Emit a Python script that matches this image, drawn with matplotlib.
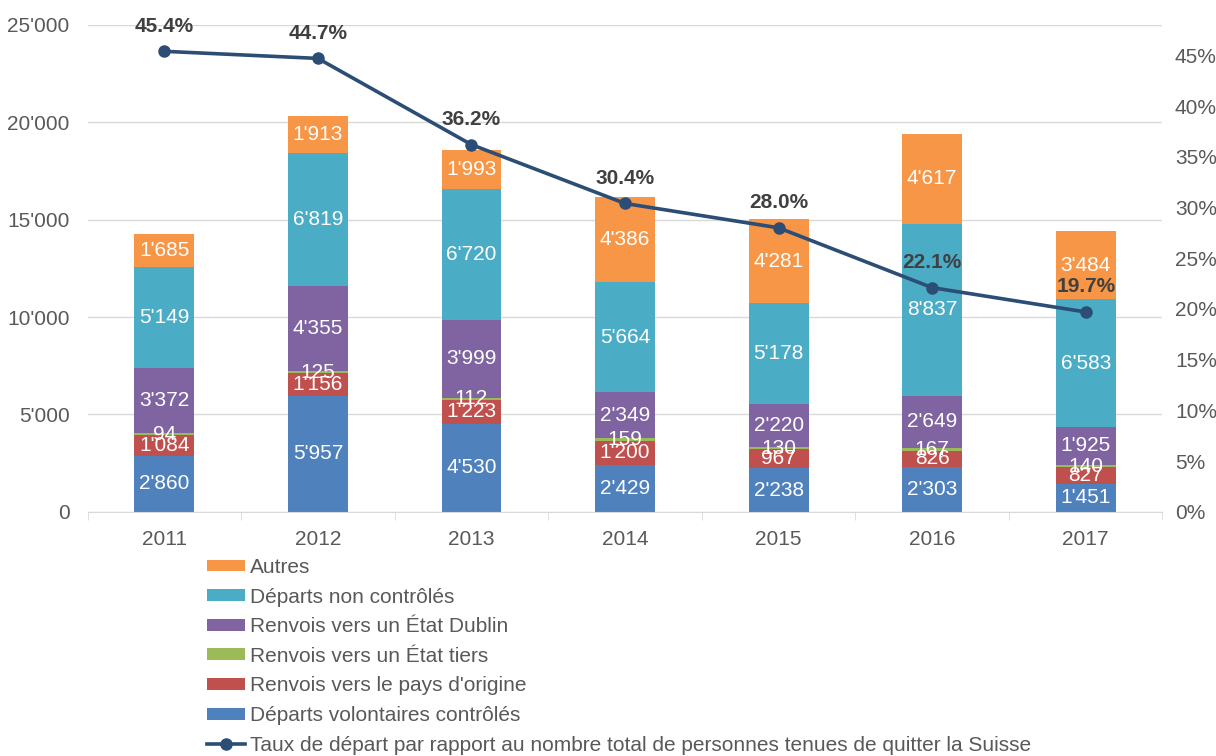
import numpy as np
import matplotlib.pyplot as plt
from matplotlib.ticker import FuncFormatter, FixedLocator

plt.rcParams['font.family'] = ['Liberation Sans', 'DejaVu Sans']

years = ['2011', '2012', '2013', '2014', '2015', '2016', '2017']
volontaires = [2860, 5957, 4530, 2429, 2238, 2303, 1451]
origine = [1084, 1156, 1223, 1200, 967, 826, 827]
tiers = [94, 125, 112, 159, 130, 167, 140]
dublin = [3372, 4355, 3999, 2349, 2220, 2649, 1925]
non_controles = [5149, 6819, 6720, 5664, 5178, 8837, 6583]
autres = [1685, 1913, 1993, 4386, 4281, 4617, 3484]
taux = [45.4, 44.7, 36.2, 30.4, 28.0, 22.1, 19.7]

series = [
    ('Départs volontaires contrôlés', volontaires, '#4F81BD'),
    ("Renvois vers le pays d'origine", origine, '#C0504D'),
    ('Renvois vers un État tiers', tiers, '#9BBB59'),
    ('Renvois vers un État Dublin', dublin, '#8064A2'),
    ('Départs non contrôlés', non_controles, '#4BACC6'),
    ('Autres', autres, '#F79646'),
]
line_label = 'Taux de départ par rapport au nombre total de personnes tenues de quitter la Suisse'

txt = '#595959'
fs = 15


def thousands(v, pos=None):
    return f'{int(v):,}'.replace(',', "'")


fig = plt.figure(figsize=(12.16, 7.56), dpi=100)
ax = fig.add_axes([0.072, 0.323, 0.884, 0.644])
x = np.arange(len(years))

bottom = np.zeros(len(years))
handles = []
for name, vals, col in series:
    vals = np.array(vals)
    b = ax.bar(x, vals, 0.39, bottom=bottom, color=col, label=name, zorder=2)
    handles.append(b)
    for xi, v, bt in zip(x, vals, bottom):
        ax.text(xi, bt + v / 2, thousands(v), ha='center', va='center',
                color='white', fontsize=fs, zorder=4)
    bottom += vals

ax.set_xlim(-0.5, 6.5)
ax.set_ylim(0, 25000)
ax.set_yticks(np.arange(0, 25001, 5000))
ax.yaxis.set_major_formatter(FuncFormatter(thousands))
ax.grid(axis='y', color='#D9D9D9', lw=1, zorder=0)
ax.set_axisbelow(True)
for s in ['left', 'right', 'top']:
    ax.spines[s].set_visible(False)
ax.spines['bottom'].set_color('#D9D9D9')
ax.set_xticks(x)
ax.set_xticklabels(years)
ax.xaxis.set_minor_locator(FixedLocator(np.arange(-0.5, 7, 1)))
ax.tick_params(axis='x', which='major', length=0, labelsize=fs, colors=txt, pad=13)
ax.tick_params(axis='x', which='minor', length=6, color='#D9D9D9')
ax.tick_params(axis='y', length=0, labelsize=fs, colors=txt, pad=13)

ax2 = ax.twinx()
ax2.set_ylim(0, 48)
ax2.set_yticks(np.arange(0, 46, 5))
ax2.yaxis.set_major_formatter(FuncFormatter(lambda v, p: f'{int(v)}%'))
ax2.tick_params(axis='y', length=0, labelsize=fs, colors=txt, pad=9)
for s in ax2.spines.values():
    s.set_visible(False)
ln, = ax2.plot(x, taux, color='#2C4D75', lw=2.6, marker='o', ms=8, zorder=5,
               label=line_label)
for xi, t in zip(x, taux):
    ax2.annotate(f'{t:.1f}%', (xi, t), xytext=(0, 18), textcoords='offset points',
                 ha='center', va='center', fontsize=fs, fontweight='bold', color='#404040')

leg_handles = handles[::-1] + [ln]
leg_labels = [s[0] for s in series[::-1]] + [line_label]
fig.legend(leg_handles, leg_labels, loc='upper left', bbox_to_anchor=(0.1705, 0.262),
           frameon=False, fontsize=fs, handlelength=1.8, handleheight=0.5,
           handletextpad=0.25, labelspacing=0.51, borderaxespad=0, borderpad=0,
           labelcolor=txt)

fig.savefig('out.png', dpi=100)
